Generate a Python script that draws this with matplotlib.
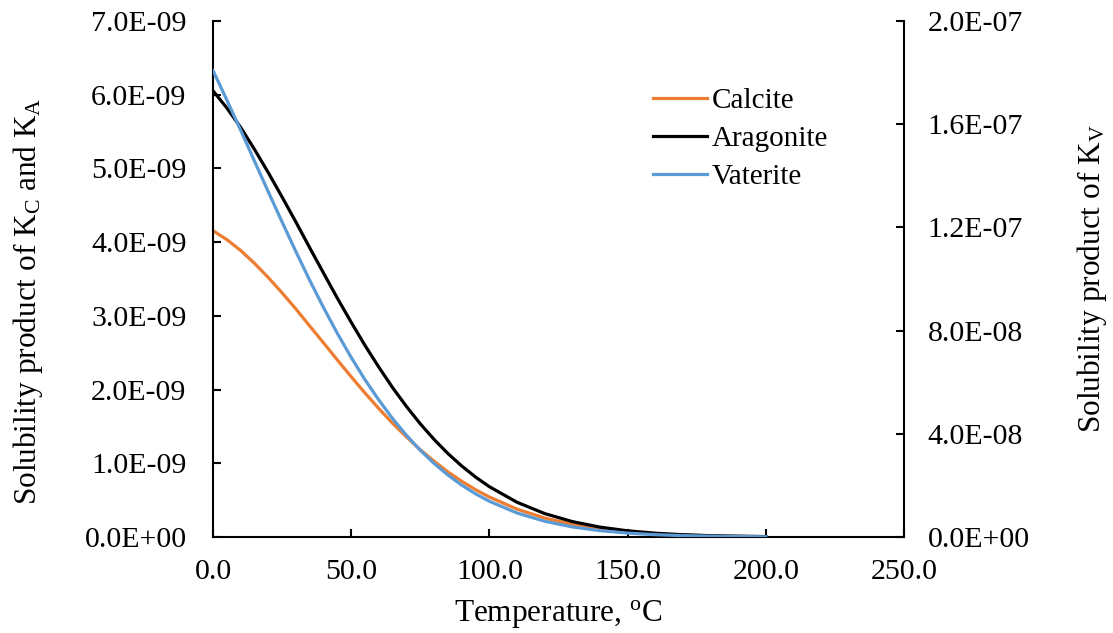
#!/usr/bin/env python3
# plot.py - solubility products of CaCO3 polymorphs vs temperature

import matplotlib
matplotlib.use('Agg')
import matplotlib.pyplot as plt
from matplotlib.ticker import FormatStrFormatter, MultipleLocator

plt.rcParams['font.family'] = 'Liberation Serif'
plt.rcParams['mathtext.fontset'] = 'custom'
plt.rcParams['mathtext.rm'] = 'Liberation Serif'
plt.rcParams['mathtext.it'] = 'Liberation Serif:italic'

# temperature, degC
temps = [0, 5, 10, 15, 20, 25, 30, 35, 40, 45, 50, 55, 60, 65, 70, 75,
         80, 85, 90, 95, 100, 110, 120, 130, 140, 150, 160, 170, 180,
         190, 200]

# left axis, x 1e-9
calcite = [4.155, 4.035, 3.887, 3.713, 3.520, 3.312, 3.093, 2.862, 2.633,
           2.401, 2.174, 1.953, 1.742, 1.542, 1.357, 1.184, 1.027, 0.883,
           0.755, 0.642, 0.542, 0.378, 0.257, 0.171, 0.1105, 0.0699,
           0.0433, 0.0262, 0.0155, 0.0090, 0.0051]
aragonite = [6.053, 5.821, 5.557, 5.259, 4.943, 4.612, 4.272, 3.923, 3.580,
             3.239, 2.913, 2.598, 2.304, 2.025, 1.770, 1.535, 1.323, 1.132,
             0.963, 0.813, 0.682, 0.471, 0.318, 0.209, 0.134, 0.0841,
             0.0516, 0.0310, 0.0182, 0.0105, 0.0059]

# right axis, x 1e-7
vaterite = [1.808, 1.694, 1.577, 1.457, 1.338, 1.221, 1.106, 0.9945, 0.889,
            0.789, 0.696, 0.6093, 0.531, 0.4585, 0.394, 0.336, 0.285,
            0.2401, 0.201, 0.1673, 0.1384, 0.0930, 0.0611, 0.0391, 0.0246,
            0.0151, 0.00905, 0.00532, 0.00307, 0.00173, 0.00096]

W, H = 1113, 633
fig = plt.figure(figsize=(W / 100, H / 100), dpi=100)
ax = fig.add_axes([213 / W, 1 - 537 / H, (904 - 213) / W, (537 - 21) / H])
ax2 = ax.twinx()

l1, = ax.plot(temps, [v * 1e-9 for v in calcite], color='#ED7D31',
              lw=2.3, label='Calcite')
l2, = ax.plot(temps, [v * 1e-9 for v in aragonite], color='black',
              lw=2.3, label='Aragonite')
l3, = ax2.plot(temps, [v * 1e-7 for v in vaterite], color='#5B9BD5',
               lw=2.3, label='Vaterite')

ax.set_xlim(0, 250)
ax.set_ylim(0, 7e-9)
ax2.set_ylim(0, 2e-7)
ax.xaxis.set_major_locator(MultipleLocator(50))
ax.yaxis.set_major_locator(MultipleLocator(1e-9))
ax2.yaxis.set_major_locator(MultipleLocator(4e-8))
ax.xaxis.set_major_formatter(FormatStrFormatter('%.1f'))
ax.yaxis.set_major_formatter(FormatStrFormatter('%.1E'))
ax2.yaxis.set_major_formatter(FormatStrFormatter('%.1E'))

for a in (ax, ax2):
    a.spines['top'].set_visible(False)
    for s in ('left', 'bottom', 'right'):
        a.spines[s].set_linewidth(1.5)
ax.spines['right'].set_visible(False)
ax2.spines['left'].set_visible(False)
ax2.spines['bottom'].set_visible(False)

ax.tick_params(axis='y', direction='in', length=6, width=1.5, pad=19, labelsize=21.5)
ax.tick_params(axis='x', direction='in', length=6, width=1.5, pad=16, labelsize=21.5)
ax2.tick_params(axis='y', direction='in', length=6, width=1.5, pad=17, labelsize=21.5)

ax.set_xlabel(r'Temperature, $^\mathrm{o}$C', fontsize=22.5)
ax.set_ylabel(r'Solubility product of K$_\mathrm{C}$ and K$_\mathrm{A}$', fontsize=22.5)
ax2.set_ylabel(r'Solubility product of K$_\mathrm{V}$', fontsize=22.5)
ax.xaxis.set_label_coords(0.5, -0.118)
ax.yaxis.set_label_coords(-0.243, 0.457)
ax2.yaxis.set_label_coords(1.247, 0.5)

fig.legend(handles=[l1, l2, l3], loc='upper left', frameon=False,
           bbox_to_anchor=(653 / W, 1 - 88 / H), fontsize=21,
           borderpad=0, borderaxespad=0, handlelength=1.85,
           handletextpad=0.17, labelspacing=0.39)

fig.savefig('out.png', dpi=100)
